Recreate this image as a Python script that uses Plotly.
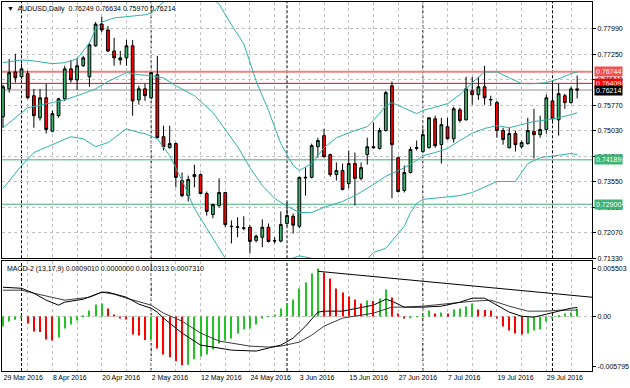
import pandas as pd
import plotly.graph_objects as go

# ---------------- data ----------------
symbol = "AUDUSD"
dates = pd.bdate_range("2016-03-29", "2016-08-05")
bars = list(range(len(dates)))

open_ = [0.7544,0.7625,0.7674,0.7660,0.7669,0.7605,0.7541,0.7599,0.7502,0.7547,
         0.7596,0.7683,0.7651,0.7692,0.7660,0.7750,0.7813,0.7796,0.7735,0.7709,
         0.7715,0.7750,0.7593,0.7625,0.7599,0.7666,0.7486,0.7454,0.7466,0.7359,
         0.7315,0.7370,0.7376,0.7321,0.7260,0.7286,0.7324,0.7226,0.7223,0.7220,
         0.7223,0.7185,0.7194,0.7223,0.7183,0.7183,0.7234,0.7255,0.7226,0.7366,
         0.7368,0.7457,0.7489,0.7434,0.7376,0.7388,0.7350,0.7408,0.7365,0.7434,
         0.7457,0.7452,0.7504,0.7634,0.7425,0.7330,0.7382,0.7452,0.7443,0.7454,
         0.7538,0.7463,0.7515,0.7480,0.7564,0.7535,0.7619,0.7608,0.7631,0.7593,
         0.7585,0.7504,0.7454,0.7495,0.7457,0.7466,0.7501,0.7492,0.7507,0.7590,
         0.7535,0.7605,0.7585,0.76249]
high = [0.7637,0.7712,0.7727,0.7698,0.7677,0.7625,0.7625,0.7640,0.7562,0.7599,
        0.7692,0.7709,0.7715,0.7721,0.7758,0.7819,0.7834,0.7808,0.7773,0.7735,
        0.7767,0.7767,0.7634,0.7640,0.7674,0.7721,0.7518,0.7518,0.7469,0.7382,
        0.7373,0.7405,0.7379,0.7327,0.7292,0.7365,0.7326,0.7243,0.7252,0.7255,
        0.7229,0.7202,0.7246,0.7234,0.7194,0.7269,0.7295,0.7263,0.7370,0.7396,
        0.7466,0.7483,0.7509,0.7437,0.7411,0.7408,0.7446,0.7440,0.7411,0.7483,
        0.7527,0.7512,0.7619,0.7646,0.7428,0.7402,0.7457,0.7475,0.7509,0.7541,
        0.7547,0.7541,0.7541,0.7573,0.7570,0.7660,0.7660,0.7660,0.7692,0.7605,
        0.7590,0.7512,0.7512,0.7504,0.7475,0.7541,0.7567,0.7547,0.7608,0.7640,
        0.7640,0.7611,0.7631,0.76634]
low = [0.7512,0.7614,0.7643,0.7654,0.7596,0.7512,0.7533,0.7495,0.7499,0.7541,
       0.7590,0.7643,0.7622,0.7689,0.7631,0.7747,0.7790,0.7732,0.7692,0.7695,
       0.7692,0.7547,0.7579,0.7590,0.7596,0.7482,0.7446,0.7452,0.7339,0.7310,
       0.7298,0.7339,0.7320,0.7257,0.7249,0.7281,0.7223,0.7176,0.7194,0.7214,
       0.7147,0.7179,0.7165,0.7179,0.7176,0.7179,0.7226,0.7205,0.7220,0.7315,
       0.7365,0.7425,0.7425,0.7370,0.7359,0.7330,0.7336,0.7286,0.7359,0.7405,
       0.7452,0.7449,0.7501,0.7307,0.7324,0.7324,0.7379,0.7446,0.7440,0.7452,
       0.7454,0.7408,0.7478,0.7469,0.7527,0.7533,0.7579,0.7593,0.7579,0.7576,
       0.7483,0.7463,0.7452,0.7443,0.7452,0.7463,0.7423,0.7483,0.7495,0.7524,
       0.7489,0.7567,0.7582,0.75970]
close = [0.7631,0.7672,0.7657,0.7683,0.7599,0.7547,0.7599,0.7507,0.7553,0.7596,
         0.7683,0.7651,0.7692,0.7715,0.7753,0.7813,0.7796,0.7735,0.7715,0.7715,
         0.7750,0.7590,0.7625,0.7605,0.7672,0.7483,0.7457,0.7466,0.7368,0.7315,
         0.7362,0.7376,0.7321,0.7269,0.7289,0.7324,0.7231,0.7225,0.7224,0.7221,
         0.7182,0.7197,0.7223,0.7182,0.7184,0.7231,0.7257,0.7229,0.7368,0.7368,
         0.7460,0.7475,0.7428,0.7376,0.7388,0.7333,0.7408,0.7365,0.7396,0.7457,
         0.7454,0.7504,0.7614,0.7463,0.7327,0.7382,0.7449,0.7454,0.7492,0.7541,
         0.7460,0.7521,0.7480,0.7567,0.7533,0.7625,0.7608,0.7631,0.7599,0.7594,
         0.7504,0.7478,0.7495,0.7463,0.7469,0.7504,0.7492,0.7507,0.7599,0.7538,
         0.7611,0.7585,0.76249,0.76214]

# Bollinger bands (vertices read at bar positions)
bb_upper_bar = [0,3,5,8,10,12,13,14,15,16,18,20,23,24,25,27,30,33,35,37,39,41,43,45,47,
                48,50,52,54,57,59,61,62,63,65,67,68,70,72,74,76,78,80,82,84,86,88,90,92,93]
bb_upper = [0.7701,0.7709,0.7706,0.7698,0.7701,0.7712,0.7735,0.7758,0.7799,0.7819,
            0.7831,0.7834,0.7840,0.7845,0.7860,0.7895,0.7915,0.7903,0.7871,0.7811,
            0.7756,0.7648,0.7562,0.7466,0.7402,0.7388,0.7408,0.7454,0.7483,0.7504,
            0.7515,0.7553,0.7576,0.7585,0.7570,0.7553,0.7562,0.7573,0.7582,0.7608,
            0.7643,0.7674,0.7674,0.7657,0.7640,0.7640,0.7643,0.7654,0.7669,0.7674]
bb_mid_bar = [0,4,8,10,13,15,17,20,22,24,26,28,31,34,36,38,40,42,44,46,48,50,
              52,55,57,60,62,65,67,68,70,72,74,76,78,80,82,84,86,88,90,92,93]
bb_mid = [0.7512,0.7570,0.7585,0.7593,0.7611,0.7625,0.7646,0.7672,0.7666,0.7663,
          0.7657,0.7634,0.7605,0.7556,0.7507,0.7457,0.7396,0.7344,0.7307,0.7284,
          0.7266,0.7266,0.7281,0.7298,0.7315,0.7347,0.7371,0.7396,0.7417,0.7431,
          0.7440,0.7452,0.7475,0.7496,0.7510,0.7518,0.7512,0.7521,0.7530,0.7535,
          0.7541,0.7550,0.7556]
bb_lower_bar = [0,3,5,8,11,13,15,17,20,22,23,25,27,29,31,33,35,37,40,44,46,48,50,52,56,
                59,60,62,64,65,66,67,68,70,74,76,78,80,83,84,85,87,90,92,93]
bb_lower = [0.7336,0.7402,0.7440,0.7463,0.7486,0.7480,0.7457,0.7469,0.7509,0.7498,
            0.7495,0.7480,0.7431,0.7359,0.7278,0.7220,0.7162,0.7104,0.7069,0.7098,
            0.7127,0.7140,0.7133,0.7104,0.7069,0.7130,0.7150,0.7162,0.7205,0.7226,
            0.7266,0.7292,0.7304,0.7307,0.7315,0.7324,0.7341,0.7356,0.7356,0.7382,
            0.7408,0.7425,0.7431,0.7437,0.7434]

# MACD-2 (13,17,9)
macd_hist = [-0.00115,-0.00057,-0.00038,-0.00011,-0.00080,-0.00172,-0.00180,-0.00264,-0.00275,-0.00241,
             -0.00138,-0.00092,-0.00046,0.00011,0.00069,0.00138,0.00149,0.00092,0.00023,-0.00023,
             -0.00034,-0.00206,-0.00218,-0.00270,-0.00264,-0.00367,-0.00436,-0.00470,-0.00516,-0.00562,
             -0.00556,-0.00493,-0.00459,-0.00436,-0.00379,-0.00310,-0.00275,-0.00252,-0.00195,-0.00149,
             -0.00138,-0.00092,-0.00023,-0.00002,0.00023,0.00092,0.00149,0.00195,0.00321,0.00390,
             0.00493,0.00551,0.00505,0.00436,0.00321,0.00275,0.00229,0.00195,0.00149,0.00184,
             0.00178,0.00206,0.00310,0.00218,0.00034,-0.00023,-0.00011,-0.00006,0.00002,0.00069,
             0.00034,0.00046,0.00034,0.00080,0.00092,0.00115,0.00149,0.00080,0.00075,0.00069,
             -0.00023,-0.00115,-0.00161,-0.00195,-0.00206,-0.00195,-0.00161,-0.00149,-0.00057,-0.00023,
             0.00011,0.00034,0.00046,0.0009010]
macd_bar = [0,3,5,7,9,10,13,16,17,20,22,24,25,26,29,32,34,37,41,43,45,47,49,51,52,
            55,58,60,62,63,65,68,71,74,76,78,80,82,84,86,88,90,92,93]
macd_line = [0.00336,0.00324,0.00267,0.00187,0.00130,0.00164,0.00198,0.00279,0.00279,0.00221,
             0.00141,0.00095,0.00049,-0.00019,-0.00191,-0.00329,-0.00352,-0.00387,-0.00398,-0.00364,
             -0.00329,-0.00249,-0.00112,0.00049,0.00061,0.00061,0.00107,0.00130,0.00198,0.00175,
             0.00107,0.00107,0.00118,0.00164,0.00210,0.00210,0.00130,0.00049,0.00003,-0.00008,
             0.00026,0.00061,0.00095,0.0010313]
signal_bar = [0,3,5,10,14,16,18,20,24,26,29,32,35,37,40,43,45,48,50,52,55,58,60,63,65,
              68,71,76,79,82,85,88,90,93]
signal_line = [0.00302,0.00302,0.00267,0.00187,0.00221,0.00279,0.00256,0.00210,0.00130,0.00038,
               -0.00054,-0.00191,-0.00283,-0.00306,-0.00341,-0.00352,-0.00341,-0.00295,-0.00215,-0.00112,
               -0.00019,0.00015,0.00038,0.00107,0.00107,0.00118,0.00141,0.00175,0.00187,0.00118,
               0.00061,0.00061,0.00072,0.0007310]
macd_trend_bar = [51, 96]
macd_trend = [0.00519, 0.00217]

# horizontal levels
level_prices = [0.76744, 0.76409, 0.74189, 0.72900]
level_colors = ["#F08080", "#FF0000", "#3CB371", "#3CB371"]
level_box_colors = ["#F05050", "#FF0000", "#3CB371", "#3CB371"]
level_widths = [2, 1, 1, 1]
bid_price = 0.76214

# axis ticks
price_ticks = [0.77990, 0.77250, 0.76510, 0.75770, 0.75030, 0.74290, 0.73550, 0.72810, 0.72070, 0.71330]
macd_ticks = [0.005503, 0.0, -0.005795]
macd_tick_text = ["0.005503", "0.00", "-0.005795"]
date_tick_bars = [0, 8, 16, 24, 32, 40, 48, 56, 64, 72, 80, 88]
date_tick_labels = ["29 Mar 2016", "8 Apr 2016", "20 Apr 2016", "2 May 2016", "12 May 2016",
                    "24 May 2016", "3 Jun 2016", "15 Jun 2016", "27 Jun 2016", "7 Jul 2016",
                    "19 Jul 2016", "29 Jul 2016"]

# ---------------- styling ----------------
FONT = "Liberation Sans, Arial, sans-serif"
GRID = "#C0C0C0"
BB_COLOR = "#2DB3AC"
BULL = "#3CB371"
BEAR = "#FF0000"
HIST_UP = "#22C322"
HIST_DN = "#FF0000"

month_starts = [i for i in range(1, len(dates)) if dates[i].month != dates[i - 1].month]
hist_colors = [HIST_UP if (i == 0 or macd_hist[i] > macd_hist[i - 1]) else HIST_DN
               for i in range(len(macd_hist))]

# vertical grid every 4 bars, labels every 8 bars
grid_bars = list(range(0, len(bars) + 2, 4))
label_of = dict(zip(date_tick_bars, date_tick_labels))
grid_text = [label_of.get(b, "") for b in grid_bars]

fig = go.Figure()

fig.add_trace(go.Candlestick(
    x=bars, open=open_, high=high, low=low, close=close,
    increasing=dict(line=dict(color="black", width=1), fillcolor=BULL),
    decreasing=dict(line=dict(color="black", width=1), fillcolor=BEAR),
    whiskerwidth=0, xaxis="x", yaxis="y", hoverinfo="skip", showlegend=False))

for bx, by in [(bb_upper_bar, bb_upper), (bb_mid_bar, bb_mid), (bb_lower_bar, bb_lower)]:
    fig.add_trace(go.Scatter(x=bx, y=by, mode="lines", line=dict(color=BB_COLOR, width=1),
                             xaxis="x", yaxis="y", hoverinfo="skip", showlegend=False))

fig.add_trace(go.Bar(x=bars, y=macd_hist, width=0.17, marker=dict(color=hist_colors, line=dict(width=0)),
                     xaxis="x2", yaxis="y2", hoverinfo="skip", showlegend=False))
fig.add_trace(go.Scatter(x=signal_bar, y=signal_line, mode="lines", line=dict(color="#3A3A3A", width=1),
                         xaxis="x2", yaxis="y2", hoverinfo="skip", showlegend=False))
fig.add_trace(go.Scatter(x=macd_bar, y=macd_line, mode="lines", line=dict(color="black", width=1),
                         xaxis="x2", yaxis="y2", hoverinfo="skip", showlegend=False))
fig.add_trace(go.Scatter(x=macd_trend_bar, y=macd_trend, mode="lines", line=dict(color="black", width=1),
                         xaxis="x2", yaxis="y2", hoverinfo="skip", showlegend=False))

shapes = []
for m in month_starts:
    for yr in ["y domain", "y2 domain"]:
        shapes.append(dict(type="line", xref="x", yref=yr, x0=m, x1=m, y0=0, y1=1,
                           line=dict(color="black", width=1, dash="3px,2px"), layer="below"))
shapes.append(dict(type="line", xref="paper", yref="y", x0=0, x1=1, y0=bid_price, y1=bid_price,
                   line=dict(color="#C8C8C8", width=2), layer="below"))
for p, c, w in zip(level_prices, level_colors, level_widths):
    shapes.append(dict(type="line", xref="paper", yref="y", x0=0, x1=1, y0=p, y1=p,
                       line=dict(color=c, width=w), layer="below"))
shapes.append(dict(type="line", xref="paper", yref="y2", x0=0, x1=1, y0=0, y1=0,
                   line=dict(color=GRID, width=1, dash="dot"), layer="below"))

annotations = [
    dict(xref="paper", yref="paper", x=0, y=1, xanchor="left", yanchor="top", xshift=3, yshift=-1,
         text=f"\u25BC  {symbol},Daily  {open_[-1]:.5f} {high[-1]:.5f} {low[-1]:.5f} {close[-1]:.5f}",
         showarrow=False, font=dict(size=7, color="black", family=FONT)),
    dict(xref="paper", yref="y2 domain", x=0, y=1, xanchor="left", yanchor="top", xshift=3, yshift=-2,
         text=f"MACD-2 (13,17,9) {macd_hist[-1]:.7f} {0:.7f} {macd_line[-1]:.7f} {signal_line[-1]:.7f}",
         showarrow=False, font=dict(size=7, color="black", family=FONT)),
]
for p, c in zip(level_prices, level_box_colors):
    annotations.append(dict(xref="paper", yref="y", x=1, y=p, xanchor="left", yanchor="middle", xshift=2,
                            text=f"{p:.5f}", showarrow=False, bgcolor=c, borderpad=1,
                            font=dict(size=7, color="white", family=FONT)))
annotations.append(dict(xref="paper", yref="y", x=1, y=bid_price, xanchor="left", yanchor="middle", xshift=2,
                        text=f"{bid_price:.5f}", showarrow=False, bgcolor="black", borderpad=1,
                        font=dict(size=7, color="white", family=FONT)))

xcommon = dict(range=[-0.16, 95.4], tickmode="array", tickvals=grid_bars, showgrid=True, gridcolor=GRID,
               griddash="dot", gridwidth=1, zeroline=False, showline=True, linecolor="black",
               linewidth=1, mirror=True)

fig.update_layout(
    width=630, height=388, margin=dict(l=1, r=33, t=1, b=17),
    paper_bgcolor="white", plot_bgcolor="white", showlegend=False, boxgap=0.36,
    font=dict(family=FONT, size=7, color="black"),
    xaxis=dict(domain=[0, 1], anchor="y", showticklabels=False, ticks="",
               rangeslider=dict(visible=False), **xcommon),
    xaxis2=dict(domain=[0, 1], anchor="y2", matches="x", ticktext=grid_text,
                ticks="", ticklabelposition="outside right",
                tickfont=dict(size=7, family=FONT, color="black"), **xcommon),
    yaxis=dict(domain=[0.3054, 1], range=[0.71329, 0.78772], side="right", anchor="x",
               tickmode="array", tickvals=price_ticks, ticktext=[f"{v:.5f}" for v in price_ticks],
               ticks="outside", ticklen=3, tickcolor="black",
               tickfont=dict(size=7, family=FONT, color="black"),
               showgrid=True, gridcolor=GRID, griddash="dot", gridwidth=1, zeroline=False,
               showline=True, linecolor="black", linewidth=1, mirror=True),
    yaxis2=dict(domain=[0, 0.2973], range=[-0.00627, 0.00634], side="right", anchor="x2",
                tickmode="array", tickvals=macd_ticks, ticktext=macd_tick_text,
                ticks="outside", ticklen=3, tickcolor="black",
                tickfont=dict(size=7, family=FONT, color="black"),
                showgrid=False, zeroline=False,
                showline=True, linecolor="black", linewidth=1, mirror=True),
    shapes=shapes, annotations=annotations,
)

fig.write_html("out.html", config={"displayModeBar": False},
               post_script="document.body.style.margin='0';")
